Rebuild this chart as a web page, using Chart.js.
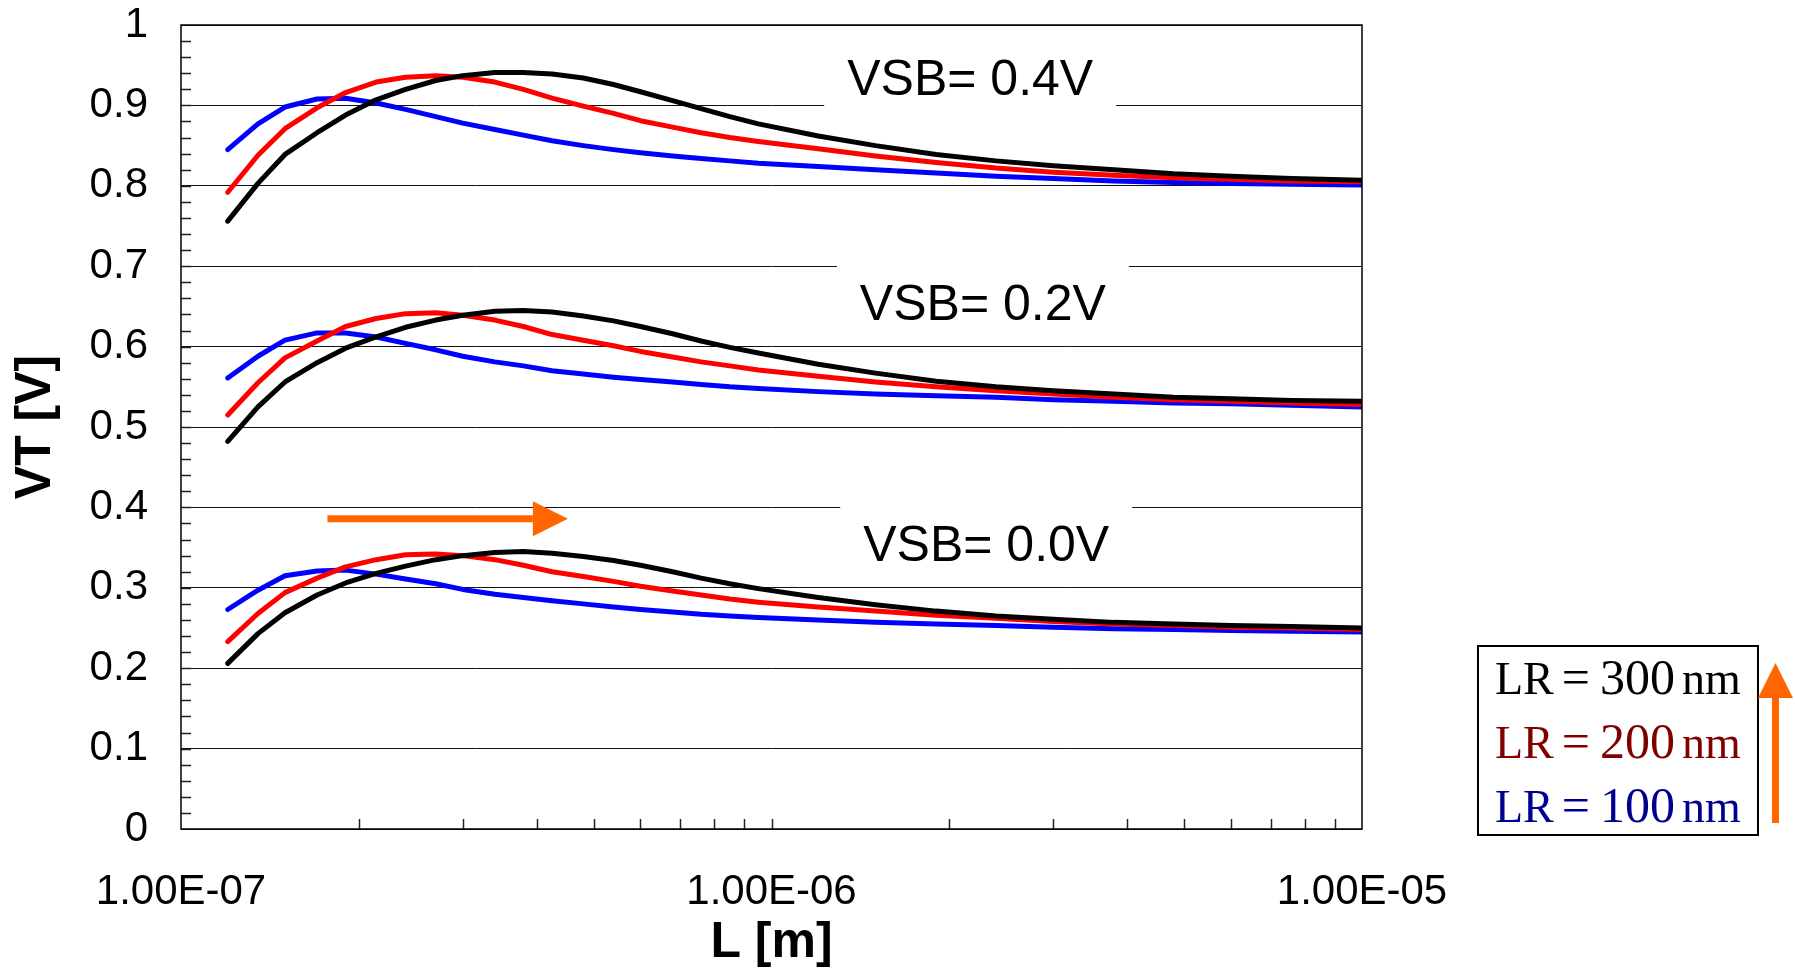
<!DOCTYPE html>
<html>
<head>
<meta charset="utf-8">
<title>VT vs L</title>
<script src="https://cdn.jsdelivr.net/npm/chart.js@4.4.1/dist/chart.umd.min.js"></script>
<style>
  html, body { margin: 0; padding: 0; background: #fff; overflow: hidden; }
  canvas { display: block; }
</style>
</head>
<body>
<canvas id="vt-chart" width="1795" height="968"></canvas>
<script>
// channel length L [m]
const lengths = [
  1.2e-7, 1.35e-7, 1.5e-7, 1.7e-7, 1.9e-7, 2.14e-7, 2.4e-7, 2.7e-7, 3.0e-7, 3.4e-7,
  3.8e-7, 4.25e-7, 4.8e-7, 5.4e-7, 6.0e-7, 6.8e-7, 7.6e-7, 8.5e-7, 9.5e-7, 1.2e-6,
  1.5e-6, 1.9e-6, 2.4e-6, 3.0e-6, 3.8e-6, 4.8e-6, 6.0e-6, 7.6e-6, 1.0e-5,
];

// VT [V], VSB = 0.4V
const vsb04Lr300 = [0.756, 0.803, 0.839, 0.866, 0.888, 0.907, 0.920, 0.931, 0.937, 0.941, 0.941, 0.939, 0.934, 0.926, 0.917, 0.906, 0.896, 0.886, 0.877, 0.862, 0.850, 0.839, 0.831, 0.825, 0.820, 0.815, 0.812, 0.809, 0.807];
const vsb04Lr200 = [0.792, 0.838, 0.871, 0.897, 0.916, 0.929, 0.935, 0.937, 0.935, 0.929, 0.920, 0.909, 0.899, 0.890, 0.881, 0.873, 0.866, 0.860, 0.855, 0.846, 0.837, 0.829, 0.822, 0.817, 0.813, 0.810, 0.808, 0.806, 0.805];
const vsb04Lr100 = [0.845, 0.877, 0.898, 0.908, 0.909, 0.903, 0.895, 0.886, 0.878, 0.870, 0.863, 0.856, 0.850, 0.845, 0.841, 0.837, 0.834, 0.831, 0.828, 0.824, 0.820, 0.816, 0.812, 0.809, 0.806, 0.804, 0.803, 0.802, 0.801];

// VT [V], VSB = 0.2V
const vsb02Lr300 = [0.482, 0.525, 0.556, 0.580, 0.598, 0.612, 0.624, 0.633, 0.639, 0.644, 0.645, 0.643, 0.638, 0.632, 0.625, 0.616, 0.607, 0.599, 0.592, 0.578, 0.567, 0.557, 0.550, 0.545, 0.541, 0.537, 0.535, 0.533, 0.532];
const vsb02Lr200 = [0.515, 0.555, 0.586, 0.607, 0.625, 0.635, 0.641, 0.642, 0.639, 0.633, 0.625, 0.615, 0.608, 0.601, 0.594, 0.587, 0.581, 0.576, 0.571, 0.563, 0.556, 0.550, 0.545, 0.541, 0.537, 0.534, 0.532, 0.530, 0.528];
const vsb02Lr100 = [0.561, 0.588, 0.608, 0.617, 0.617, 0.612, 0.604, 0.596, 0.588, 0.581, 0.576, 0.570, 0.566, 0.562, 0.559, 0.556, 0.553, 0.550, 0.548, 0.544, 0.541, 0.539, 0.537, 0.534, 0.532, 0.530, 0.529, 0.527, 0.525];

// VT [V], VSB = 0.0V
const vsb00Lr300 = [0.206, 0.243, 0.269, 0.291, 0.306, 0.318, 0.327, 0.335, 0.340, 0.344, 0.345, 0.343, 0.339, 0.334, 0.328, 0.320, 0.312, 0.305, 0.299, 0.288, 0.279, 0.271, 0.265, 0.261, 0.257, 0.255, 0.253, 0.252, 0.250];
const vsb00Lr200 = [0.233, 0.268, 0.294, 0.312, 0.326, 0.335, 0.341, 0.342, 0.340, 0.335, 0.328, 0.320, 0.314, 0.308, 0.302, 0.296, 0.291, 0.286, 0.282, 0.276, 0.271, 0.266, 0.262, 0.258, 0.255, 0.253, 0.251, 0.250, 0.248];
const vsb00Lr100 = [0.273, 0.297, 0.315, 0.321, 0.322, 0.317, 0.311, 0.305, 0.298, 0.292, 0.288, 0.284, 0.280, 0.276, 0.273, 0.270, 0.267, 0.265, 0.263, 0.260, 0.257, 0.255, 0.253, 0.251, 0.249, 0.248, 0.247, 0.246, 0.245];

const xTickLabels = ["1.00E-07", "1.00E-06", "1.00E-05"];
const yTickLabels = ["0", "0.1", "0.2", "0.3", "0.4", "0.5", "0.6", "0.7", "0.8", "0.9", "1"];
const vsbLabels = ["VSB= 0.4V", "VSB= 0.2V", "VSB= 0.0V"];
const lrLabels = ["300", "200", "100"];

// where the VSB labels sit (centre L, baseline VT)
const vsbSpots = [[2.17e-6, 0.913], [2.28e-6, 0.633], [2.31e-6, 0.333]];

const ORANGE = "#FF6600";
const SANS = "'Liberation Sans', Arial, sans-serif";
const SERIF = "'Liberation Serif', 'Times New Roman', serif";

Chart.defaults.font.family = SANS;
Chart.defaults.color = "#000";

function line(values, color, label) {
  return {
    label: label,
    data: values.map((v, i) => ({ x: lengths[i], y: v })),
    borderColor: color,
    backgroundColor: color,
    borderWidth: 5,
    pointRadius: 0,
    tension: 0,
    borderJoinStyle: "round",
    borderCapStyle: "round",
    clip: 0,
  };
}

// black first so it is painted on top
const datasets = [
  line(vsb04Lr300, "#000000", "LR=300nm VSB=0.4V"),
  line(vsb02Lr300, "#000000", "LR=300nm VSB=0.2V"),
  line(vsb00Lr300, "#000000", "LR=300nm VSB=0.0V"),
  line(vsb04Lr200, "#FF0000", "LR=200nm VSB=0.4V"),
  line(vsb02Lr200, "#FF0000", "LR=200nm VSB=0.2V"),
  line(vsb00Lr200, "#FF0000", "LR=200nm VSB=0.0V"),
  line(vsb04Lr100, "#0000FF", "LR=100nm VSB=0.4V"),
  line(vsb02Lr100, "#0000FF", "LR=100nm VSB=0.2V"),
  line(vsb00Lr100, "#0000FF", "LR=100nm VSB=0.0V"),
];

function arrowRight(ctx, x1, x2, y, head) {
  ctx.lineWidth = 7;
  ctx.beginPath();
  ctx.moveTo(x1, y);
  ctx.lineTo(x2 - head, y);
  ctx.stroke();
  ctx.beginPath();
  ctx.moveTo(x2, y);
  ctx.lineTo(x2 - head, y - head / 2);
  ctx.lineTo(x2 - head, y + head / 2);
  ctx.closePath();
  ctx.fill();
}

function arrowUp(ctx, x, y1, y2, head) {
  ctx.lineWidth = 7;
  ctx.beginPath();
  ctx.moveTo(x, y1);
  ctx.lineTo(x, y2 + head);
  ctx.stroke();
  ctx.beginPath();
  ctx.moveTo(x, y2);
  ctx.lineTo(x - head / 2, y2 + head);
  ctx.lineTo(x + head / 2, y2 + head);
  ctx.closePath();
  ctx.fill();
}

const decorations = {
  id: "decorations",
  beforeDraw(chart) {
    const ctx = chart.ctx;
    ctx.save();
    ctx.fillStyle = "#fff";
    ctx.fillRect(0, 0, chart.width, chart.height);
    ctx.restore();
  },
  beforeDatasetsDraw(chart) {
    const { ctx, scales: { x, y } } = chart;
    ctx.save();
    ctx.font = "50px " + SANS;
    ctx.textAlign = "center";
    ctx.textBaseline = "alphabetic";
    vsbLabels.forEach((text, i) => {
      const cx = x.getPixelForValue(vsbSpots[i][0]);
      const by = y.getPixelForValue(vsbSpots[i][1]);
      const w = ctx.measureText(text).width + 46;
      ctx.fillStyle = "#fff";
      ctx.fillRect(cx - w / 2, by - 62, w, 76);
      ctx.fillStyle = "#000";
      ctx.fillText(text, cx, by);
    });
    ctx.restore();
  },
  afterDatasetsDraw(chart) {
    const { ctx, chartArea: a, scales: { x, y } } = chart;
    ctx.save();
    ctx.strokeStyle = "#222";
    ctx.lineWidth = 1.5;
    ctx.beginPath();
    // minor ticks on the log axis
    for (let e = -7; e < -5; e++) {
      for (let m = 1; m <= 9; m++) {
        const px = Math.round(x.getPixelForValue(m * Math.pow(10, e))) + 0.5;
        if (px <= a.left + 1) continue;
        ctx.moveTo(px, a.bottom);
        ctx.lineTo(px, a.bottom - 10);
      }
    }
    // minor ticks on the VT axis
    for (let k = 1; k < 50; k++) {
      const py = Math.round(y.getPixelForValue(k * 0.02)) + 0.5;
      ctx.moveTo(a.left, py);
      ctx.lineTo(a.left + 10, py);
    }
    ctx.stroke();
    ctx.strokeStyle = "#000";
    ctx.lineWidth = 1.5;
    ctx.strokeRect(a.left, a.top, a.right - a.left, a.bottom - a.top);

    ctx.strokeStyle = ORANGE;
    ctx.fillStyle = ORANGE;
    arrowRight(ctx, x.getPixelForValue(1.77e-7), x.getPixelForValue(4.52e-7), y.getPixelForValue(0.386), 35);
    ctx.restore();
  },
  afterDraw(chart) {
    const ctx = chart.ctx;
    ctx.save();
    // legend box
    ctx.strokeStyle = "#000";
    ctx.lineWidth = 2;
    ctx.strokeRect(1478, 646, 280, 189);
    const colors = ["#000000", "#800000", "#000090"];
    lrLabels.forEach((lr, i) => {
      const base = 694 + i * 64;
      let cx = 1495;
      ctx.fillStyle = colors[i];
      ctx.textBaseline = "alphabetic";
      ctx.textAlign = "left";
      const parts = [["LR", "46px " + SERIF, 8], ["=", "50px " + SERIF, 10], [lr, "50px " + SERIF, 7], ["nm", "46px " + SERIF, 0]];
      parts.forEach(([t, f, gap]) => {
        ctx.font = f;
        ctx.fillText(t, cx, base);
        cx += ctx.measureText(t).width + gap;
      });
    });
    ctx.strokeStyle = ORANGE;
    ctx.fillStyle = ORANGE;
    arrowUp(ctx, 1775.5, 823, 663, 35);
    ctx.restore();
  },
};

new Chart(document.getElementById("vt-chart"), {
  type: "line",
  data: { datasets: datasets },
  options: {
    responsive: false,
    animation: false,
    events: [],
    layout: {
      padding: { left: 0, top: 25, right: 433, bottom: 0 },
    },
    plugins: {
      legend: { display: false },
      tooltip: { enabled: false },
    },
    scales: {
      x: {
        type: "logarithmic",
        min: 1e-7,
        max: 1e-5,
        afterBuildTicks: (scale) => {
          scale.ticks = [1e-7, 1e-6, 1e-5].map((v) => ({ value: v }));
        },
        afterFit: (scale) => {
          scale.height = 139;
          scale.paddingLeft = 0;
          scale.paddingRight = 0;
        },
        grid: { display: false },
        border: { display: false },
        ticks: {
          autoSkip: false,
          maxRotation: 0,
          padding: 30,
          font: { size: 42 },
          callback: (value, index) => xTickLabels[index],
        },
        title: {
          display: true,
          text: "L [m]",
          font: { size: 50, weight: "bold", lineHeight: 1 },
          padding: { top: 0, bottom: 0 },
        },
      },
      y: {
        min: 0,
        max: 1,
        afterFit: (scale) => {
          scale.width = 181;
          scale.paddingTop = 0;
          scale.paddingBottom = 0;
        },
        grid: { color: "#111", lineWidth: 1, drawTicks: false },
        border: { display: false },
        ticks: {
          stepSize: 0.1,
          padding: 33,
          font: { size: 42 },
          callback: (value, index) => yTickLabels[index],
        },
        title: {
          display: true,
          text: "VT [V]",
          font: { size: 50, weight: "bold", lineHeight: 1 },
          padding: { top: 11, bottom: 0 },
        },
      },
    },
  },
  plugins: [decorations],
});
</script>
</body>
</html>
